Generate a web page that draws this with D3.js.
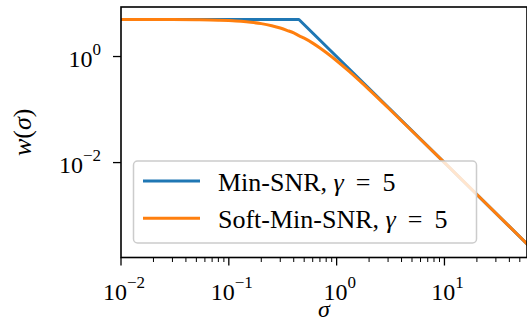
<!DOCTYPE html>
<html><head><meta charset="utf-8">
<script src="https://cdn.jsdelivr.net/npm/d3@7"></script>
<style>
body{margin:0;background:#fff;}
svg{display:block;}
</style></head>
<body><svg id="c" width="527" height="323"></svg>
<script>
// Data
const minSigma = [0.01, 0.447, 100];
const minW = [5, 5, 0.0001];
const softSigma = [0.01,0.03,0.05,0.08,0.1,0.13,0.16,0.2,0.25,0.3,0.35,0.4,0.45,0.5,0.6,0.7,0.8,1.0,1.3,1.6,2.0,3.0,5.0,10,20,50,100];
const softW = [5.0,4.98,4.94,4.85,4.76,4.61,4.43,4.17,3.81,3.45,3.09,2.78,2.46,2.22,1.79,1.45,1.19,0.833,0.529,0.362,0.238,0.108,0.0394,0.00998,0.0025,0.0004,0.0001];
const xTicks = [0.01, 0.1, 1, 10];
const xTickExp = ["−2", "−1", "0", "1"];
const yTicks = [1, 0.01];
const yTickExp = ["0", "−2"];
const seriesNames = ["Min-SNR, ", "Soft-Min-SNR, "];
const colors = ["#1f77b4", "#ff7f0e"];
const FONT = "Liberation Serif, Times New Roman, DejaVu Serif, serif";

const L = 121, R = 527, T = 7, B = 257.5;
const x = d3.scaleLog().domain([0.01, 58.3]).range([L, R]);
const y = d3.scaleLog().domain([Math.pow(10,-3.79), Math.pow(10,0.934)]).range([B, T]);

const svg = d3.select("#c").attr("font-family",FONT);
svg.append("defs").append("clipPath").attr("id","clip")
  .append("rect").attr("x",L).attr("y",T).attr("width",R-L).attr("height",B-T);

const line = d3.line().x(d=>x(d[0])).y(d=>y(d[1]));
const g = svg.append("g").attr("clip-path","url(#clip)");
g.append("path").datum(minSigma.map((s,i)=>[s,minW[i]]))
  .attr("d", line).attr("fill","none").attr("stroke",colors[0]).attr("stroke-width",3).attr("stroke-linejoin","round");
g.append("path").datum(softSigma.map((s,i)=>[s,softW[i]]))
  .attr("d", line.curve(d3.curveMonotoneX)).attr("fill","none").attr("stroke",colors[1]).attr("stroke-width",3);

// x axis ticks
const xMinor = [];
for (let e=-2;e<=1;e++) for (let m=2;m<=9;m++){const v=m*Math.pow(10,e); if(v<=58.3) xMinor.push(v);}
svg.append("g").selectAll("line").data(xMinor).join("line")
  .attr("x1",d=>x(d)).attr("x2",d=>x(d)).attr("y1",B).attr("y2",B+4.5)
  .attr("stroke","#000").attr("stroke-width",1);
svg.append("g").selectAll("line").data(xTicks).join("line")
  .attr("x1",d=>x(d)).attr("x2",d=>x(d)).attr("y1",B).attr("y2",B+8)
  .attr("stroke","#000").attr("stroke-width",1.3);
const xl = svg.append("g").selectAll("text").data(xTicks).join("text")
  .attr("x",d=>x(d)+3).attr("y",300).attr("text-anchor","middle").attr("font-size",24);
xl.append("tspan").text("10");
xl.append("tspan").attr("dy",-12).attr("font-size",17).text((d,i)=>xTickExp[i]);

// y axis ticks
svg.append("g").selectAll("line").data(yTicks).join("line")
  .attr("x1",L-8).attr("x2",L).attr("y1",d=>y(d)).attr("y2",d=>y(d))
  .attr("stroke","#000").attr("stroke-width",1.3);
const yl = svg.append("g").selectAll("text").data(yTicks).join("text")
  .attr("x",101).attr("y",d=>y(d)+10).attr("text-anchor","end").attr("font-size",24);
yl.append("tspan").text("10");
yl.append("tspan").attr("dy",-12).attr("font-size",17).text((d,i)=>yTickExp[i]);

// spines
svg.append("rect").attr("x",L).attr("y",T).attr("width",R-L).attr("height",B-T)
  .attr("fill","none").attr("stroke","#000").attr("stroke-width",1.6);

// axis labels
svg.append("text").attr("x",(L+R)/2).attr("y",317).attr("text-anchor","middle")
  .attr("font-size",24).attr("font-style","italic").text("σ");
const ylab = svg.append("text").attr("transform",`translate(31,${(T+B)/2}) rotate(-90)`)
  .attr("text-anchor","middle").attr("font-size",26);
ylab.append("tspan").attr("font-style","italic").text("w");
ylab.append("tspan").text("(");
ylab.append("tspan").attr("font-style","italic").text("σ");
ylab.append("tspan").text(")");

// legend
const lg = svg.append("g");
lg.append("rect").attr("x",133.5).attr("y",161).attr("width",343).attr("height",82).attr("rx",4)
  .attr("fill","#fff").attr("fill-opacity",0.8).attr("stroke","#cccccc").attr("stroke-width",1.5);
seriesNames.forEach((name,i)=>{
  const yy = 181 + i*37.3;
  lg.append("line").attr("x1",143).attr("x2",200).attr("y1",yy).attr("y2",yy)
    .attr("stroke",colors[i]).attr("stroke-width",3);
  const t = lg.append("text").attr("x",218).attr("y",yy+10).attr("font-size",26);
  t.append("tspan").text(name);
  t.append("tspan").attr("font-style","italic").text("γ");
  t.append("tspan").attr("dx",12).text("=");
  t.append("tspan").attr("dx",12).text("5");
});
</script></body></html>
